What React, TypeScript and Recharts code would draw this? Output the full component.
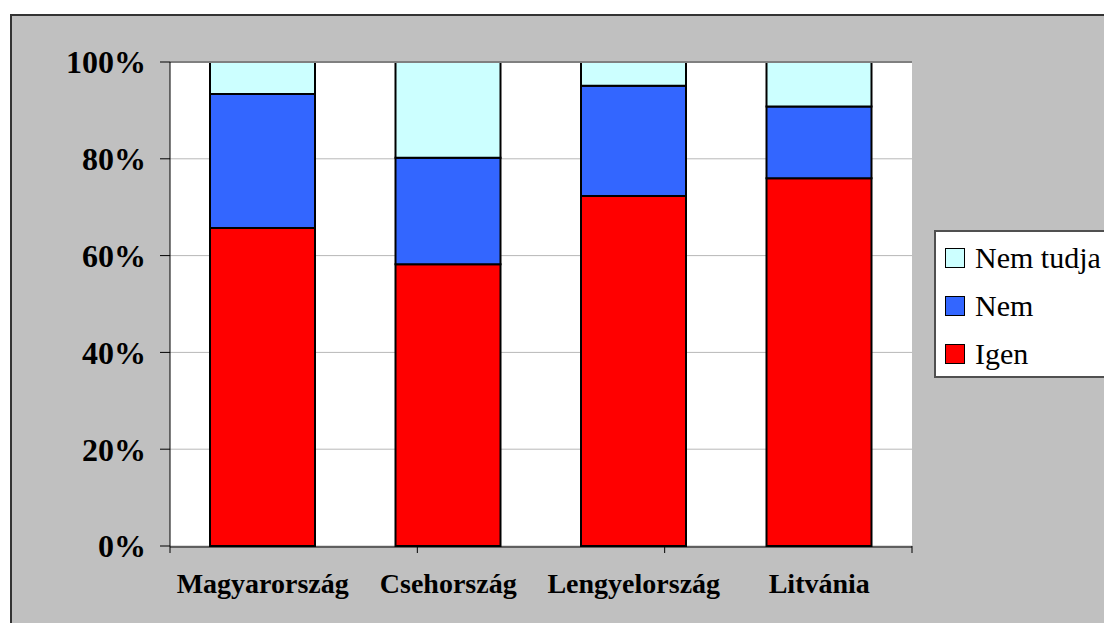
import React from 'react';
import { BarChart, Bar, XAxis, YAxis, CartesianGrid, Legend, ReferenceLine } from 'recharts';

const countries = ['Magyarország', 'Csehország', 'Lengyelország', 'Litvánia'];
const igen = [65.7, 58.2, 72.3, 76.0];
const nem = [27.7, 22.0, 22.8, 14.8];
const nemTudja = [6.6, 19.8, 4.9, 9.2];
const yTicks = [0, 20, 40, 60, 80, 100];
const boundaryTicks = [0, 1, 2, 3, 4];

const seriesInfo = [
  { key: 'nemTudja', name: 'Nem tudja', color: '#CCFFFF' },
  { key: 'nem', name: 'Nem', color: '#3366FF' },
  { key: 'igen', name: 'Igen', color: '#FF0000' },
];

const data = countries.map((c, i) => ({
  country: c,
  igen: igen[i],
  nem: nem[i],
  nemTudja: nemTudja[i],
}));

const FONT = '"Liberation Serif", "Times New Roman", serif';

const renderLegend = () => (
  <div
    style={{
      background: '#fff',
      border: '2px solid #505050',
      width: 200,
      height: 142,
      paddingTop: 2,
      boxSizing: 'content-box',
      fontFamily: FONT,
      textAlign: 'left',
    }}
  >
    {seriesInfo.map((s) => (
      <div key={s.key} style={{ height: 48, display: 'flex', alignItems: 'center', paddingLeft: 9 }}>
        <div
          style={{
            width: 18,
            height: 18,
            background: s.color,
            border: '1px solid #000',
            marginRight: 10,
          }}
        />
        <span style={{ fontSize: 30, color: '#000', lineHeight: '30px', whiteSpace: 'nowrap' }}>{s.name}</span>
      </div>
    ))}
  </div>
);

const EmptyTick = () => <g />;

export default function App() {
  return (
    <div style={{ position: 'absolute', left: 0, top: 0, width: 1104, height: 623, overflow: 'hidden', background: '#fff' }}>
      <div
        style={{
          position: 'absolute',
          left: 10,
          top: 14,
          width: 1094,
          height: 609,
          background: '#C0C0C0',
          borderLeft: '2px solid #333',
          borderTop: '2px solid #333',
          boxSizing: 'border-box',
        }}
      />
      <div style={{ position: 'absolute', left: 0, top: 0 }}>
        <BarChart
          width={1104}
          height={623}
          data={data}
          margin={{ top: 62, right: 192, bottom: 75, left: 10 }}
          style={{ fontFamily: FONT }}
        >
          <CartesianGrid vertical={false} stroke="#B8B8B8" fill="#FFFFFF" strokeWidth={1} />
          <XAxis
            dataKey="country"
            xAxisId="cat"
            height={1}
            tickLine={false}
            tickSize={0}
            tickMargin={26}
            axisLine={{ stroke: '#000', strokeWidth: 1 }}
            tick={{ fill: '#000', fontSize: 28, fontWeight: 'bold', fontFamily: FONT }}
            interval={0}
          />
          <XAxis
            xAxisId="b"
            type="number"
            domain={[0, 4]}
            ticks={boundaryTicks}
            height={1}
            axisLine={false}
            tickLine={{ stroke: '#000', strokeWidth: 1 }}
            tickSize={7}
            tick={EmptyTick}
          />
          <YAxis
            domain={[0, 100]}
            ticks={yTicks}
            width={160}
            tickSize={10}
            tickMargin={14}
            tickFormatter={(v) => `${v}%`}
            axisLine={{ stroke: '#000', strokeWidth: 1 }}
            tickLine={{ stroke: '#000', strokeWidth: 1 }}
            tick={{ fill: '#000', fontSize: 32, fontWeight: 'bold', fontFamily: FONT }}
          />
          <ReferenceLine y={100} xAxisId="cat" stroke="#808080" strokeWidth={2} />
          <ReferenceLine x={4} xAxisId="b" stroke="#808080" strokeWidth={2} />
          <Legend
            layout="horizontal"
            verticalAlign="middle"
            align="center"
            content={renderLegend}
            wrapperStyle={{ position: 'absolute', left: 934, top: 230, width: 210, height: 146 }}
          />
          <Bar dataKey="igen" name="Igen" stackId="a" xAxisId="cat" fill="#FF0000" stroke="#000" strokeWidth={2} barSize={105} isAnimationActive={false} />
          <Bar dataKey="nem" name="Nem" stackId="a" xAxisId="cat" fill="#3366FF" stroke="#000" strokeWidth={2} barSize={105} isAnimationActive={false} />
          <Bar dataKey="nemTudja" name="Nem tudja" stackId="a" xAxisId="cat" fill="#CCFFFF" stroke="#000" strokeWidth={2} barSize={105} isAnimationActive={false} />
        </BarChart>
      </div>
    </div>
  );
}
